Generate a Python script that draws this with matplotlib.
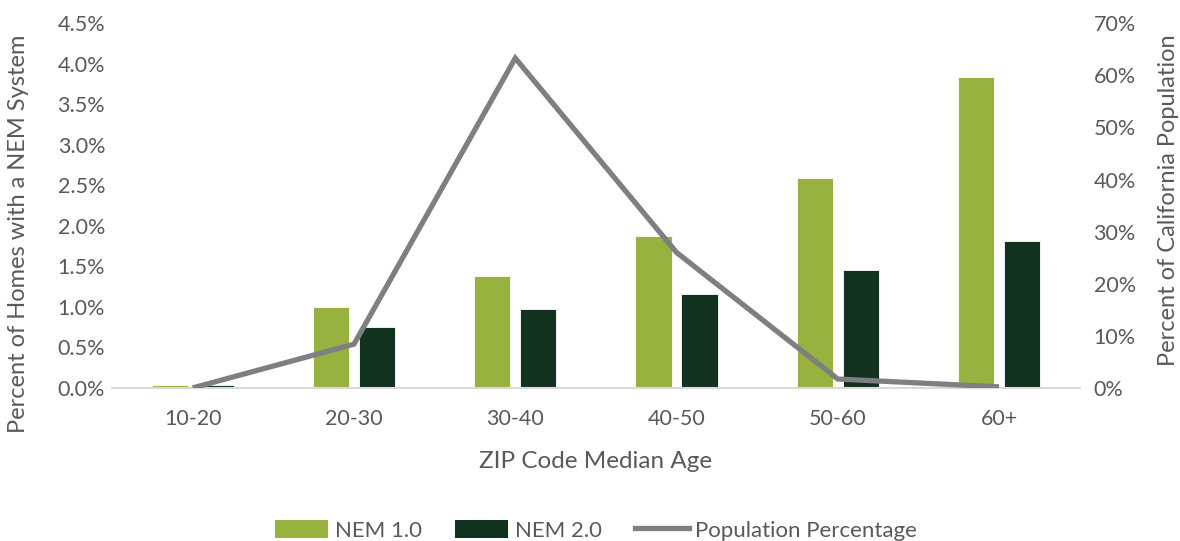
import matplotlib
matplotlib.use("Agg")
import matplotlib.pyplot as plt
import numpy as np
from matplotlib.ticker import FuncFormatter, MultipleLocator
from matplotlib.lines import Line2D
from matplotlib.patches import Patch

plt.rcParams['font.family'] = ['Lato', 'DejaVu Sans']

# Data
age_groups = ["10-20", "20-30", "30-40", "40-50", "50-60", "60+"]
nem1 = [0.03, 1.00, 1.38, 1.87, 2.59, 3.84]        # % of homes with NEM 1.0
nem2 = [0.04, 0.75, 0.97, 1.16, 1.45, 1.81]        # % of homes with NEM 2.0
population = [0.0, 8.4, 63.3, 26.0, 1.7, 0.2]      # % of California population

C_NEM1 = "#97b23e"
C_NEM2 = "#11321f"
C_LINE = "#7f7f7f"
C_TEXT = "#595959"

fig = plt.figure(figsize=(11.8, 5.41), dpi=100)
ax = fig.add_axes([0.095, 0.283, 0.82, 0.674])
ax2 = ax.twinx()

x = np.arange(len(age_groups))
w = 0.225
off = 0.143
ax.bar(x - off, nem1, w, color=C_NEM1, edgecolor="white", linewidth=0.6, zorder=2)
ax.bar(x + off, nem2, w, color=C_NEM2, edgecolor="white", linewidth=0.6, zorder=2)
ax2.plot(x, population, color=C_LINE, lw=3.8, solid_capstyle="butt",
         solid_joinstyle="miter", zorder=3)

ax.set_xlim(-0.5, len(age_groups) - 0.5)
ax.set_ylim(0, 4.5)
ax2.set_ylim(0, 70)
ax.yaxis.set_major_locator(MultipleLocator(0.5))
ax2.yaxis.set_major_locator(MultipleLocator(10))
ax.yaxis.set_major_formatter(FuncFormatter(lambda v, p: f"{v:.1f}%"))
ax2.yaxis.set_major_formatter(FuncFormatter(lambda v, p: f"{v:.0f}%"))

ax.set_xticks(x)
ax.set_xticklabels(age_groups)

for a in (ax, ax2):
    for s in a.spines.values():
        s.set_visible(False)
    a.tick_params(length=0, colors=C_TEXT, labelsize=15.5)
ax.spines["bottom"].set_visible(True)
ax.spines["bottom"].set_color("#d9d9d9")
ax.spines["bottom"].set_linewidth(1.5)
ax.tick_params(axis="x", pad=15)
ax.tick_params(axis="y", pad=5)
ax2.tick_params(axis="y", pad=10)

ax.set_xlabel("ZIP Code Median Age", color=C_TEXT, fontsize=17.5, labelpad=16)

# Axis titles placed independently of the axes centre
fig.text(0.016, 0.568, "Percent of Homes with a NEM System", color=C_TEXT,
         fontsize=17, rotation=90, ha="center", va="center")
fig.text(0.990, 0.630, "Percent of California Population", color=C_TEXT,
         fontsize=17, rotation=90, ha="center", va="center")

handles = [Patch(facecolor=C_NEM1), Patch(facecolor=C_NEM2),
           Line2D([0], [0], color=C_LINE, lw=3.8)]
fig.legend(handles, ["NEM 1.0", "NEM 2.0", "Population Percentage"],
           loc="center", bbox_to_anchor=(0.505, 0.02), ncol=3, frameon=False,
           fontsize=16, labelcolor=C_TEXT, handlelength=2.4, handleheight=0.9,
           handletextpad=0.3, columnspacing=1.5)

fig.savefig("out.png", dpi=100)
